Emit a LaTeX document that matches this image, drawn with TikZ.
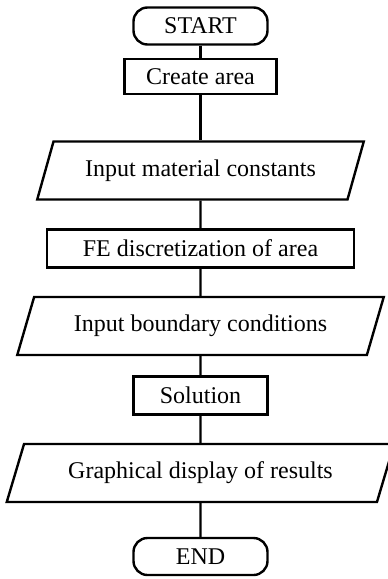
\documentclass[tikz,border=0pt]{standalone}
\usepackage{fontspec}
\setmainfont{Liberation Serif}
\usepackage{tikz}
\usetikzlibrary{positioning,shapes.geometric}
\tikzset{-,
every node/.style={font=\fontsize{12}{14}\selectfont,inner sep=1mm},
term/.style={rectangle,draw,rounded corners=7pt,minimum width=67pt,minimum height=18.5pt},
proc/.style={rectangle,draw,minimum height=19pt},
io/.style={trapezium,draw,trapezium stretches=true,trapezium left angle=68,trapezium right angle=112,minimum height=29pt},
}

\begin{document}
\begin{tikzpicture}[x=0.5pt,y=-0.5pt,line width=1.2pt]
\useasboundingbox (0,0) rectangle (387,579);
\node[term] (start) at (200.5,26) {START};
\node[proc,minimum width=76pt,minimum height=17.5pt] (area) at (200.5,76.5) {Create area};
\node[io,minimum width=163.5pt] (matconst) at (200.5,170.5) {Input material constants};
\node[proc,minimum width=153.5pt] (fedisc) at (200.5,248.5) {FE discretization of area};
\node[io,minimum width=183.5pt] (boundary) at (200.5,326) {Input boundary conditions};
\node[proc,minimum width=67pt] (solution) at (200.5,395.5) {Solution};
\node[io,minimum width=194pt] (display) at (200.5,473) {Graphical display of results};
\node[term] (end) at (200.5,556.5) {END};

\path
(start) edge (area)
(area) edge (matconst)
(matconst) edge (fedisc)
(fedisc) edge (boundary)
(boundary) edge (solution)
(solution) edge (display)
(display) edge (end)
;
\end{tikzpicture}
\end{document}
